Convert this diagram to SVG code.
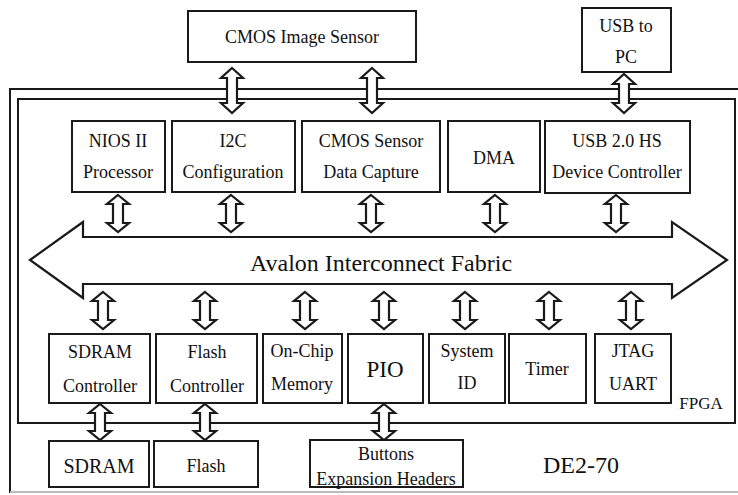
<svg xmlns="http://www.w3.org/2000/svg" width="738" height="495" viewBox="0 0 738 495" font-family="Liberation Serif, Times New Roman, DejaVu Serif, serif">
<style>
.box{fill:#fff;stroke:#1a1a1a;stroke-width:2}
.frame{fill:none;stroke:#1a1a1a;stroke-width:2}
.arr{fill:#fff;stroke:#1a1a1a;stroke-width:2.2;stroke-linejoin:miter}
text{fill:#111;text-anchor:middle;font-size:18px}
.big{font-size:24px}
</style>
<rect width="738" height="495" fill="#fff"/>
<g id="DE2-70">
<path class="frame" d="M738 89 H10 V493"/>
<line x1="10" y1="492" x2="738" y2="492" stroke="#bbb" stroke-width="2"/>
<text class="big" x="581" y="473">DE2-70</text>
</g>
<g id="FPGA">
<rect class="frame" x="18" y="99" width="717" height="324"/>
<text x="701" y="409" style="font-size:17px">FPGA</text>
</g>
<g id="connectors">
<polygon class="arr" points="30,260 83,222 83,237 672,237 672,222 727,260 672,298 672,284 83,284 83,298"/>
<polygon class="arr" points="232,68 243,78 237,78 237,103 243,103 232,113 221,103 227,103 227,78 221,78"/>
<polygon class="arr" points="372,68 383,78 377,78 377,103 383,103 372,113 361,103 367,103 367,78 361,78"/>
<polygon class="arr" points="624,74 635,84 629,84 629,103 635,103 624,113 613,103 619,103 619,84 613,84"/>
<polygon class="arr" points="118,195 129,204 123,204 123,223 129,223 118,232 107,223 113,223 113,204 107,204"/>
<polygon class="arr" points="231,195 242,204 236,204 236,223 242,223 231,232 220,223 226,223 226,204 220,204"/>
<polygon class="arr" points="371,195 382,204 376,204 376,223 382,223 371,232 360,223 366,223 366,204 360,204"/>
<polygon class="arr" points="495,195 506,204 500,204 500,223 506,223 495,232 484,223 490,223 490,204 484,204"/>
<polygon class="arr" points="616,195 627,204 621,204 621,223 627,223 616,232 605,223 611,223 611,204 605,204"/>
<polygon class="arr" points="103,292 114,301 108,301 108,320 114,320 103,329 92,320 98,320 98,301 92,301"/>
<polygon class="arr" points="205,292 216,301 210,301 210,320 216,320 205,329 194,320 200,320 200,301 194,301"/>
<polygon class="arr" points="305,292 316,301 310,301 310,320 316,320 305,329 294,320 300,320 300,301 294,301"/>
<polygon class="arr" points="384,292 395,301 389,301 389,320 395,320 384,329 373,320 379,320 379,301 373,301"/>
<polygon class="arr" points="465,292 476,301 470,301 470,320 476,320 465,329 454,320 460,320 460,301 454,301"/>
<polygon class="arr" points="549,292 560,301 554,301 554,320 560,320 549,329 538,320 544,320 544,301 538,301"/>
<polygon class="arr" points="631,292 642,301 636,301 636,320 642,320 631,329 620,320 626,320 626,301 620,301"/>
<polygon class="arr" points="100,404 111,413 105,413 105,431 111,431 100,440 89,431 95,431 95,413 89,413"/>
<polygon class="arr" points="205,404 216,413 210,413 210,431 216,431 205,440 194,431 200,431 200,413 194,413"/>
<polygon class="arr" points="384,404 395,413 389,413 389,431 395,431 384,440 373,431 379,431 379,413 373,413"/>
</g>
<g id="cmos-image-sensor">
<rect class="box" x="188" y="11" width="228" height="51"/>
<text x="302" y="43">CMOS Image Sensor</text>
</g>
<g id="usb-to-pc">
<rect class="box" x="582" y="8" width="89" height="64"/>
<text x="626" y="32">USB to</text>
<text x="626" y="63">PC</text>
</g>
<g id="nios">
<rect class="box" x="72" y="121" width="93" height="71"/>
<text x="118" y="147">NIOS II</text>
<text x="118" y="178">Processor</text>
</g>
<g id="i2c">
<rect class="box" x="172" y="121" width="123" height="71"/>
<text x="233" y="147">I2C</text>
<text x="233" y="178">Configuration</text>
</g>
<g id="cmos-capture">
<rect class="box" x="302" y="121" width="138" height="71"/>
<text x="371" y="147">CMOS Sensor</text>
<text x="371" y="178">Data Capture</text>
</g>
<g id="dma">
<rect class="box" x="448" y="121" width="92" height="71"/>
<text x="494" y="164">DMA</text>
</g>
<g id="usb-controller">
<rect class="box" x="545" y="121" width="145" height="72"/>
<text x="617" y="147">USB 2.0 HS</text>
<text x="617" y="178">Device Controller</text>
</g>
<g id="bus-label">
<text class="big" x="381" y="271">Avalon Interconnect Fabric</text>
</g>
<g id="sdram-controller">
<rect class="box" x="49" y="334" width="101" height="69"/>
<text x="100" y="358">SDRAM</text>
<text x="100" y="392">Controller</text>
</g>
<g id="flash-controller">
<rect class="box" x="156" y="334" width="101" height="69"/>
<text x="207" y="358">Flash</text>
<text x="207" y="392">Controller</text>
</g>
<g id="onchip-memory">
<rect class="box" x="263" y="334" width="79" height="69"/>
<text x="302" y="357">On-Chip</text>
<text x="302" y="390">Memory</text>
</g>
<g id="pio">
<rect class="box" x="348" y="334" width="75" height="69"/>
<text x="385" y="377" style="font-size:23px">PIO</text>
</g>
<g id="system-id">
<rect class="box" x="429" y="334" width="76" height="69"/>
<text x="467" y="357">System</text>
<text x="467" y="389">ID</text>
</g>
<g id="timer">
<rect class="box" x="509" y="334" width="77" height="69"/>
<text x="547" y="375">Timer</text>
</g>
<g id="jtag-uart">
<rect class="box" x="595" y="334" width="76" height="69"/>
<text x="633" y="357">JTAG</text>
<text x="633" y="390">UART</text>
</g>
<g id="sdram">
<rect class="box" x="49" y="441" width="100" height="46"/>
<text x="99" y="473" style="font-size:20px">SDRAM</text>
</g>
<g id="flash">
<rect class="box" x="154" y="441" width="104" height="46"/>
<text x="206" y="472">Flash</text>
</g>
<g id="buttons">
<rect class="box" x="310" y="440" width="153" height="47"/>
<text x="386" y="460">Buttons</text>
<text x="386" y="485">Expansion Headers</text>
</g>
</svg>
